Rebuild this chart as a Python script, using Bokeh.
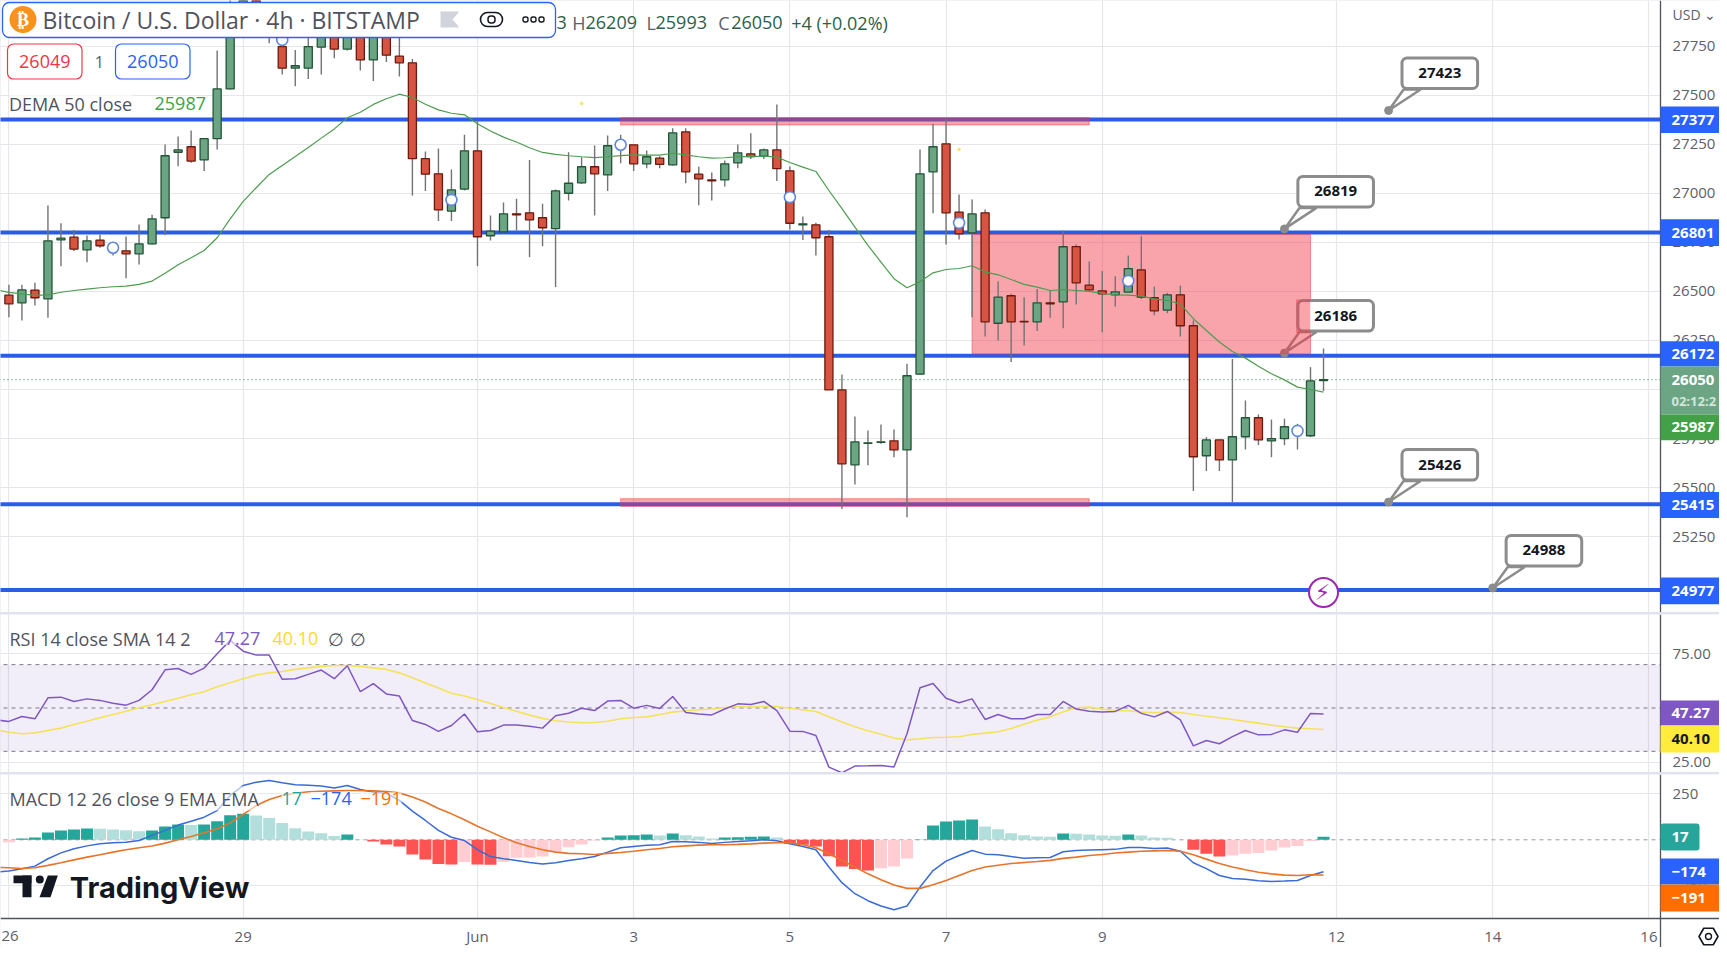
from bokeh.embed import file_html
from bokeh.layouts import column
from bokeh.models import BoxAnnotation, FixedTicker, Grid, Label, Range1d
from bokeh.plotting import figure
from bokeh.resources import INLINE

# ---------- data ----------
bar_open = [26481,26442,26507,26462,26763,26777,26712,26762,26734,26707,26692,26743,26876,27210,27238,27171,27279,27533,27930,27990,27900,27749,27639,27639,27746,27850,27736,27850,27681,27860,
            27700,27666,27177,27100,26910,27022,27217,26784,26804,26896,26901,26876,26820,27001,27054,27136,27095,27240,27248,27151,27180,27146,27314,27098,27069,27069,27156,27202,27190,27222,
            27115,26840,26840,26779,25998,25616,25726,25731,25738,25692,26078,27110,27253,26905,26799,26901,26338,26478,26347,26345,26442,26447,26729,26532,26503,26483,26497,26610,26468,26405,
            26483,26325,25662,25743,25641,25759,25856,25738,25749,25785,25764,26046]
bar_high = [26534,26534,26544,26938,26848,26814,26785,26791,26751,26780,26842,26891,27250,27290,27321,27279,27729,27990,28010,28020,27960,27830,27732,27830,27900,27900,27920,27900,27900,27900,
            27830,27686,27214,27229,27122,27299,27372,26888,26954,26973,27171,26947,27020,27210,27185,27244,27295,27299,27248,27219,27190,27333,27333,27137,27107,27168,27250,27307,27229,27454,
            27137,26882,26850,26814,26077,25862,25791,25822,25796,26131,27224,27355,27381,26995,26969,26918,26551,26488,26471,26513,26505,26811,26740,26653,26604,26578,26684,26782,26525,26493,
            26530,26352,25757,25743,26156,25944,25873,25847,25851,25825,26114,26209]
bar_low = [26369,26352,26428,26366,26629,26706,26649,26723,26684,26568,26638,26740,26787,27139,27156,27114,27224,27530,27830,27850,27766,27607,27547,27583,27607,27690,27729,27627,27573,27670,
           27596,26989,27012,26859,26859,27015,26629,26760,26801,26811,26675,26731,26522,26964,27049,26887,27012,27154,27114,27129,27129,27143,27052,26940,26964,27035,27129,27175,27175,27063,
           26816,26763,26683,25998,25390,25516,25614,25723,25655,25349,26075,26899,26740,26765,26369,26270,26250,26140,26225,26298,26366,26313,26434,26505,26292,26423,26497,26462,26379,26389,
           26270,25482,25584,25584,25425,25694,25716,25655,25716,25694,25757,25993]
bar_close = [26437,26508,26468,26758,26772,26716,26758,26733,26709,26692,26743,26870,27192,27222,27165,27279,27533,27930,27990,27900,27830,27639,27651,27749,27860,27736,27850,27681,27860,27705,
             27666,27177,27098,26916,27018,27217,26779,26808,26896,26891,26865,26825,27013,27052,27136,27100,27243,27250,27151,27187,27148,27309,27110,27074,27064,27151,27207,27188,27222,27126,
             26848,26845,26774,25998,25621,25733,25728,25733,25692,26070,27100,27238,26901,26794,26896,26345,26471,26345,26345,26442,26437,26728,26544,26508,26488,26498,26616,26471,26401,26483,
             26325,25657,25743,25641,25759,25856,25743,25749,25810,25800,26044,26050]
# the line series start one bar earlier, left of the first full candle
dema = [26508,26495,26488,26480,26483,26496,26505,26512,26519,26524,26527,26536,26553,26593,26636,26672,26709,26774,26870,26959,27029,27097,27143,27188,27234,27282,27329,27386,27414,27454,27483,
        27506,27489,27455,27426,27409,27401,27355,27318,27287,27262,27233,27209,27199,27192,27187,27183,27187,27193,27197,27195,27195,27205,27197,27187,27180,27182,27188,27188,27190,27185,
        27158,27134,27112,27015,26922,26828,26735,26650,26565,26519,26549,26595,26612,26617,26631,26599,26585,26561,26536,26522,26505,26510,26505,26500,26490,26483,26481,26476,26462,26454,
        26437,26361,26301,26242,26194,26160,26119,26080,26049,26012,26000,25987]
rsi = [44.5,43.8,46.1,45.0,54.7,55.0,53.0,54.2,53.5,52.2,51.3,53.5,58.4,67.6,68.2,65.5,68.4,75.0,81.2,76.2,74.4,74.4,63.2,63.5,65.5,67.5,63.5,69.5,57.5,61.2,56.5,
       55.5,44.2,42.4,39.2,41.9,47.2,39.0,39.6,42.1,42.1,41.6,40.7,46.4,47.6,49.9,48.8,53.2,53.5,49.9,51.2,49.8,55.3,47.9,47.2,46.8,49.5,51.9,51.6,53.0,48.8,
       39.3,39.2,37.3,22.7,20.1,23.2,23.3,23.5,22.8,38.1,59.3,61.3,54.5,52.4,54.2,44.7,47.0,45.0,45.0,47.0,47.0,53.0,49.5,48.5,48.1,48.4,51.2,47.5,45.9,48.4,
       44.5,32.5,35.0,33.5,36.8,39.6,37.6,37.8,39.9,38.8,47.5,47.27]
rsi_sma = [39.9,38.8,38.1,38.5,39.6,40.7,42.4,43.9,45.5,47.0,48.5,50.1,51.5,53.0,54.5,56.1,57.5,59.8,61.6,63.5,65.2,66.2,66.8,67.8,68.5,69.2,69.6,69.6,69.2,68.5,67.8,
           66.2,63.9,61.5,59.2,56.8,55.5,53.9,52.1,50.2,48.5,46.7,45.2,44.1,43.5,43.2,43.3,43.9,45.0,45.6,45.9,47.0,48.1,48.7,49.2,49.5,50.2,50.7,50.5,50.7,50.7,
           49.9,49.2,48.4,45.9,43.5,41.3,39.5,37.9,36.1,35.3,35.8,36.4,36.5,36.7,37.8,38.4,39.0,40.5,42.5,44.4,45.9,48.2,50.1,50.4,49.5,48.8,48.7,48.1,47.8,48.1,
           47.9,47.0,46.2,45.5,44.7,43.8,43.0,42.1,41.3,40.7,40.4,40.1]
macd = [-176,-170,-157,-143,-103,-71,-49,-33,-22,-16,-13,-4,24,51,80,101,123,159,241,295,313,322,310,299,297,293,282,295,273,259,253,
        214,156,105,51,14,-4,-54,-91,-103,-112,-123,-132,-125,-112,-103,-91,-67,-43,-36,-29,-27,-9,-11,-14,-20,-14,-9,-5,0,-5,
        -22,-36,-54,-148,-233,-293,-331,-360,-380,-360,-257,-167,-116,-85,-58,-78,-81,-91,-100,-98,-96,-65,-58,-56,-54,-52,-42,-42,-47,-45,
        -62,-125,-157,-194,-210,-214,-223,-226,-224,-221,-194,-174]
macd_signal = [-150,-152,-156,-152,-139,-125,-109,-94,-81,-67,-54,-43,-34,-18,0,18,38,60,92,138,186,219,241,253,261,264,266,268,268,266,262,
               255,232,205,170,141,109,74,43,11,-16,-36,-54,-67,-74,-76,-80,-74,-69,-62,-54,-47,-38,-33,-29,-27,-27,-25,-22,-18,-16,
               -16,-27,-43,-76,-112,-148,-185,-217,-246,-264,-264,-244,-221,-194,-167,-148,-138,-129,-123,-118,-112,-101,-94,-85,-80,-72,-67,-62,-60,-58,
               -62,-81,-105,-129,-148,-163,-176,-185,-192,-194,-190,-191]
macd_hist = [-13,7,13,40,51,56,62,60,56,52,47,51,72,83,81,83,101,134,141,132,119,91,63,45,36,20,29,2,-9,-25,
             -36,-80,-107,-132,-134,-121,-134,-136,-121,-98,-96,-91,-65,-40,-25,-4,13,24,25,29,24,34,25,18,7,13,14,16,18,13,
             -22,-27,-36,-89,-145,-159,-167,-154,-145,-101,2,78,100,105,110,72,58,36,25,18,16,34,33,29,24,22,29,24,13,11,
             0,-54,-76,-91,-85,-76,-72,-58,-42,-34,-7,17]
level_prices = [27377,26801,26172,25415,24977]
callout_bars = [106,98,98,106,114]
callout_prices = [27423,26819,26186,25426,24988]
zone_left = [47,74,47]
zone_right = [83,100,83]
zone_top = [27386,26790,25443]
zone_bottom = [27349,26182,25404]
marker_bars = [8,21,34,47,60,73,86,99]
marker_prices = [26723,27783,26967,27248,26981,26850,26554,25789]
dot_bars = [44,73]
dot_prices = [27459,27224]
price_ticks = [25250,25500,25750,26000,26250,26500,26750,27000,27250,27500,27750]
date_bars = [0,18,36,48,60,72,84,102,114,126]
date_labels = ["","29","Jun","3","5","7","9","12","14","16"]
last_price = 26050

# ---------- layout helpers ----------
FONT = "Open Sans"
BAR_PX = 13.016
GRID = "#e6e7eb"
GRAY = "#5d606b"
W = 1719
def X(px): return (px - 8.4) / BAR_PX
def YP(py): return 27377 - (py - 119) * 5.1
def YR(py): return 75 - (py - 653.3) / 2.167
def YM(py): return (839.3 - py) * 5.4348
XL, XR = X(0) - 1, X(1660)

def make(h, ytop, ybot, yticks, fmt=None, axis_y=None):
    p = figure(width=W, height=h, frame_width=W, frame_height=h,
               x_range=Range1d(X(0), X(W)), y_range=Range1d(ybot, ytop),
               x_axis_location="below" if axis_y is not None else None, y_axis_location="right",
               toolbar_location=None, output_backend="svg", min_border=0,
               min_border_left=0, min_border_right=0, min_border_top=0, min_border_bottom=0,
               outline_line_color=None, background_fill_color="white", border_fill_color="white")
    p.center = []
    p.add_layout(Grid(dimension=0, ticker=FixedTicker(ticks=date_bars), grid_line_color=GRID, grid_line_width=1.2))
    p.add_layout(Grid(dimension=1, ticker=FixedTicker(ticks=yticks), grid_line_color=GRID, grid_line_width=1.2))
    # the scale strip to the right of the chart stays clear of grid lines
    p.quad(left=[X(1660)], right=[X(W + 20)], top=[ytop], bottom=[ybot], fill_color="white", line_color=None)
    ax = p.yaxis[0]
    ax.fixed_location = X(1660)
    ax.ticker = FixedTicker(ticks=yticks)
    ax.axis_line_color = "#50535e"
    ax.axis_line_width = 1.3
    ax.major_tick_line_color = None
    ax.minor_tick_line_color = None
    ax.major_label_standoff = 6
    ax.major_label_text_font = FONT
    ax.major_label_text_font_size = "15px"
    ax.major_label_text_color = GRAY
    if fmt:
        ax.major_label_overrides = {t: fmt(t) for t in yticks}
    if axis_y is not None:
        p.quad(left=[X(-20)], right=[X(W + 20)], top=[axis_y], bottom=[ybot], fill_color="white", line_color=None)
        xa = p.xaxis[0]
        xa.fixed_location = axis_y
        xa.ticker = FixedTicker(ticks=date_bars)
        xa.major_label_overrides = dict(zip(date_bars, date_labels))
        xa.axis_line_color = "#50535e"
        xa.axis_line_width = 1.3
        xa.major_tick_line_color = None
        xa.minor_tick_line_color = None
        xa.major_label_standoff = 1
        xa.major_label_text_font = FONT
        xa.major_label_text_font_size = "15px"
        xa.major_label_text_color = GRAY
    return p

def text(p, Y, px, py, s, color, size=18, align="left", bold=False, font=FONT, veil=False):
    p.add_layout(Label(x=X(px), y=Y(py), text=s, text_color=color, text_font=font,
                       text_font_size=f"{size}px", text_align=align, text_baseline="middle",
                       text_font_style="bold" if bold else "normal",
                       background_fill_color="white" if veil else None,
                       background_fill_alpha=0.6 if veil else 1.0))

def box(p, Y, l, r, t, b, fill="white", line=None, lw=1.0, radius=0, alpha=1.0):
    p.add_layout(BoxAnnotation(left=X(l), right=X(r), top=Y(t), bottom=Y(b),
                               fill_color=fill, fill_alpha=alpha, line_color=line, line_alpha=1.0,
                               line_width=lw, border_radius=int(round(radius))))

def tag(p, Y, l, r, t, b, fill, s, color="white", size=15, tx=None):
    box(p, Y, l, r, t, b, fill=fill)
    text(p, Y, l + 11 if tx is None else tx, (t + b) / 2, s, color, size=size, bold=True)

# ---------- price pane ----------
p1 = make(612, YP(0), YP(612), price_ticks)
x_all = list(range(len(bar_open)))
x_line = list(range(-1, len(bar_open)))
p1.segment(x0=[XL]*len(level_prices), x1=[XR]*len(level_prices), y0=level_prices, y1=level_prices,
           line_color="#2b5ce6", line_width=4)
p1.segment(x0=[XL], x1=[XR], y0=[last_price], y1=[last_price], line_color="#3f6f55", line_width=1, line_dash="1 3")

# callout tails and anchor dots sit under the shaded zones
for b_, v in zip(callout_bars, callout_prices):
    p1.patch([b_, b_ + 15 / BAR_PX, b_ + 32 / BAR_PX], [v, v + 21 * 5.1, v + 21 * 5.1],
             fill_color="white", line_color="#8c8c8c", line_width=2.5)
p1.scatter(callout_bars, callout_prices, size=8, fill_color="#8c8c8c", line_color="#8c8c8c")

p1.quad(left=zone_left, right=zone_right, top=zone_top, bottom=zone_bottom,
        fill_color="#f23645", fill_alpha=0.45, line_color="#f23645", line_alpha=0.5, line_width=1)

p1.segment(x0=x_all, x1=x_all, y0=bar_low, y1=bar_high, line_color="#737375", line_width=1.4)
up = [i for i in x_all if bar_close[i] >= bar_open[i]]
dn = [i for i in x_all if bar_close[i] < bar_open[i]]
p1.vbar(x=up, width=0.62, bottom=[bar_open[i] for i in up], top=[bar_close[i] for i in up],
        fill_color="#6ba583", line_color="#225437", line_width=1.3)
p1.vbar(x=dn, width=0.62, bottom=[bar_close[i] for i in dn], top=[bar_open[i] for i in dn],
        fill_color="#d75442", line_color="#6b1a0d", line_width=1.3)
p1.line(x_line, dema, line_color="#4c9c50", line_width=1.2)
p1.scatter(marker_bars, marker_prices, size=11, fill_color="white", line_color="#5f86dc", line_width=1.6)
p1.scatter(dot_bars, dot_prices, size=3.5, fill_color="#f5e663", line_color=None)
p1.scatter([101], [24965], size=29, fill_color="white", line_color="#9c27b0", line_width=2)
text(p1, YP, 1322, 592, "⚡", "#9c27b0", size=22, align="center", font="DejaVu Sans")

# callout boxes
for b_, v in zip(callout_bars, callout_prices):
    ax_ = 8.4 + b_ * BAR_PX
    ay_ = 119 + (27377 - v) / 5.1
    box(p1, YP, ax_ + 13.4, ax_ + 89, ay_ - 52.5, ay_ - 22, fill="white", line="#8c8c8c", lw=3, radius=5)
    text(p1, YP, ax_ + 51.2, ay_ - 37.5, str(v), "#131722", size=15, align="center", bold=True)
box(p1, YP, 1295.5, 1309.7, 299, 332.5, fill="#f23645", alpha=0.45)

# header
box(p1, YP, 2, 555, 2, 37, fill="white", line="#2962ff", lw=1.3, radius=7)
box(p1, YP, 9, 36, 5.5, 32.5, fill="#f7931a", radius=13.5)
text(p1, YP, 22.5, 19, "₿", "white", size=18, align="center", bold=True, font="DejaVu Sans")
text(p1, YP, 42, 19, "Bitcoin / U.S. Dollar · 4h · BITSTAMP", "#50535e", size=23)
box(p1, YP, 440, 458, 11, 27, fill="#d1d4dc")
p1.patch([X(459), X(452), X(459)], [YP(11), YP(19), YP(27)], fill_color="white", line_color=None, level="overlay")
box(p1, YP, 480, 502, 12, 26, fill="white", line="#131722", lw=1.6, radius=7)
box(p1, YP, 487.5, 494.5, 15.5, 22.5, fill="white", line="#131722", lw=1.5, radius=3)
for cx in (525, 533, 541):
    box(p1, YP, cx - 2.5, cx + 2.5, 16.5, 21.5, fill="white", line="#131722", lw=1.4, radius=2)
text(p1, YP, 556, 22, "3", "#2c5f4a", size=18)
for px, s, c in [(571.7, "H", GRAY), (585, "26209", "#2c5f4a"), (646, "L", GRAY), (655, "25993", "#2c5f4a"),
                 (717.7, "C", GRAY), (730.7, "26050", "#2c5f4a"), (790.7, "+4 (+0.02%)", "#2c5f4a")]:
    text(p1, YP, px, 22, s, c, size=18)

# order buttons and legend
box(p1, YP, 7, 81.5, 43.5, 78.5, fill="white", line="#f23645", lw=1.2, radius=6)
text(p1, YP, 44.3, 61, "26049", "#f23645", size=18, align="center")
text(p1, YP, 98.7, 61, "1", GRAY, size=16, align="center")
box(p1, YP, 115, 189.5, 43.5, 78.5, fill="white", line="#2962ff", lw=1.2, radius=6)
text(p1, YP, 152.3, 61, "26050", "#2962ff", size=18, align="center")
text(p1, YP, 8.4, 103, "DEMA 50 close", "#50535e", size=18, veil=True)
text(p1, YP, 154, 103, "25987", "#43a047", size=18, veil=True)

# price scale tags
text(p1, YP, 1672, 14, "USD ⌄", GRAY, size=14)
for t, b, s in [(106, 132.5, "27377"), (218.7, 245.5, "26801"), (340.8, 366, "26172"),
                (491.5, 517.6, "25415"), (577, 603.8, "24977")]:
    tag(p1, YP, 1660, W + 10, t, b, "#2962ff", s)
box(p1, YP, 1660, W + 10, 366, 414, fill="#6ba583")
text(p1, YP, 1671, 379.6, "26050", "white", size=15, bold=True)
text(p1, YP, 1671, 400.5, "02:12:2", "#d3e6da", size=13, bold=True)
tag(p1, YP, 1660, W + 10, 414, 439.7, "#43a047", "25987")

# ---------- RSI pane ----------
p2 = make(158, YR(614), YR(772), [25, 75], fmt=lambda t: f"{t:.2f}")
p2.quad(left=[XL], right=[XR], top=[70], bottom=[30], fill_color="#7e57c2", fill_alpha=0.1, line_color=None)
p2.segment(x0=[XL]*3, x1=[XR]*3, y0=[70, 50, 30], y1=[70, 50, 30], line_color="#787b86", line_width=1, line_dash="4 4")
p2.line(x_line, rsi_sma, line_color="#f5e25c", line_width=1.6)
p2.line(x_line, rsi, line_color="#7e57c2", line_width=1.5)
text(p2, YR, 9, 638, "RSI 14 close SMA 14 2", "#50535e", size=18, veil=True)
text(p2, YR, 214, 638, "47.27", "#7e57c2", size=18, veil=True)
text(p2, YR, 272, 638, "40.10", "#fdd835", size=18, veil=True)
text(p2, YR, 335, 638, "∅", "#50535e", size=18, align="center")
text(p2, YR, 357, 638, "∅", "#50535e", size=18, align="center")
tag(p2, YR, 1660, W + 10, 700, 725, "#7e57c2", "47.27")
tag(p2, YR, 1660, W + 10, 725, 752, "#ffeb3b", "40.10", color="#131722")

# ---------- MACD pane ----------
p3 = make(173, YM(774), YM(947), [-250, 250], axis_y=YM(918))
p3.segment(x0=[XL], x1=[XR], y0=[0], y1=[0], line_color="#9598a1", line_width=1, line_dash="4 4")
hist_colors = []
for i, v in enumerate(macd_hist):
    rising = i > 0 and v > macd_hist[i - 1]
    if v >= 0:
        hist_colors.append("#26a69a" if rising or i == 0 else "#b2dfdb")
    else:
        hist_colors.append("#ffcdd2" if rising or i == 0 else "#ff5252")
p3.vbar(x=x_all, width=0.92, bottom=0, top=macd_hist, fill_color=hist_colors, line_color=None)
p3.line(x_line, macd, line_color="#3a6bd6", line_width=1.5)
p3.line(x_line, macd_signal, line_color="#e8742a", line_width=1.6)
text(p3, YM, 9, 798, "MACD 12 26 close 9 EMA EMA", "#50535e", size=18, veil=True)
text(p3, YM, 281, 798, "17", "#26a69a", size=18, veil=True)
text(p3, YM, 310, 798, "−174", "#2962ff", size=18, veil=True)
text(p3, YM, 360, 798, "−191", "#ff6d00", size=18, veil=True)
box(p3, YM, 1660, 1699, 823, 850, fill="#26a69a", radius=3)
text(p3, YM, 1671, 836.5, "17", "white", size=15, bold=True)
tag(p3, YM, 1660, W + 10, 858, 884, "#2962ff", "−174")
tag(p3, YM, 1660, W + 10, 884, 911, "#ff6d00", "−191")
# TradingView mark and bottom furniture
box(p3, YM, 13, 31, 875, 882.7, fill="#131722")
box(p3, YM, 22, 31, 875, 896.7, fill="#131722")
box(p3, YM, 35.3, 43.3, 875, 883, fill="#131722", radius=4)
p3.patch([X(47.3), X(57.3), X(50), X(39)], [YM(875), YM(875), YM(896.7), YM(896.7)], fill_color="#131722", line_color=None)
text(p3, YM, 69.3, 887, "TradingView", "#131722", size=29, bold=True, font="Inter")
text(p3, YM, 1, 935, "26", GRAY, size=15)
p3.scatter([X(1708)], [YM(936)], marker="hex", size=19, fill_color="white", line_color="#131722", line_width=1.6)
box(p3, YM, 1705, 1711, 933, 939, fill="white", line="#131722", lw=1.4, radius=3)

page = column(p1, p2, p3, spacing=2, styles={"background-color": "#e0e3eb"})
open("out.html", "w").write(file_html(page, INLINE))
